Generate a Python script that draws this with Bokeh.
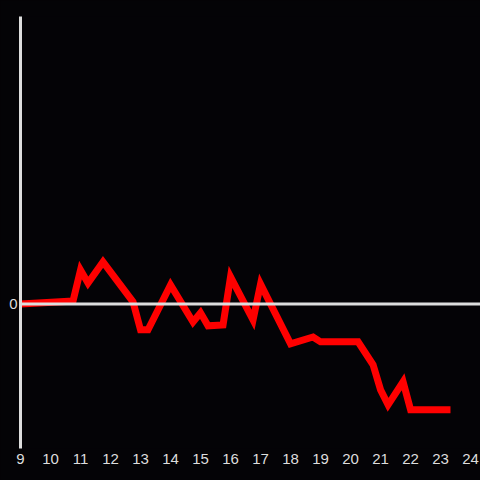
from bokeh.plotting import figure
from bokeh.models import FixedTicker, Span, Range1d
from bokeh.embed import file_html
from bokeh.resources import INLINE
from jinja2 import Template

hours = [9.0, 10.75, 11.0, 11.25, 11.75, 12.75, 13.0, 13.25, 14.0, 14.75, 15.0, 15.25,
         15.75, 16.0, 16.75, 17.0, 18.0, 18.75, 19.0, 20.25, 20.75, 21.0, 21.25, 21.75,
         22.0, 23.33]
values = [0.0, 0.1, 1.18, 0.73, 1.46, 0.07, -0.9, -0.9, 0.66, -0.63, -0.31, -0.76,
          -0.73, 0.94, -0.56, 0.69, -1.39, -1.15, -1.32, -1.32, -2.12, -2.99, -3.51, -2.71,
          -3.68, -3.68]
x_ticks = list(range(9, 25))
y_ticks = [0]

BG = "#040306"
AX = "#dddddd"

p = figure(width=480, height=480, output_backend="svg", toolbar_location=None,
           x_range=Range1d(9, 24.33), y_range=Range1d(-5.03, 10),
           background_fill_color=BG, border_fill_color=BG,
           min_border_left=20, min_border_top=16, min_border_bottom=32, min_border_right=0)
p.outline_line_color = None
p.xgrid.visible = False
p.ygrid.visible = False

p.xaxis.ticker = FixedTicker(ticks=x_ticks)
p.xaxis.axis_line_color = None
p.xaxis.major_tick_line_color = None
p.xaxis.minor_tick_line_color = None
p.xaxis.major_tick_out = 0
p.xaxis.major_label_standoff = 5
p.xaxis.major_label_text_color = AX
p.xaxis.major_label_text_font = "Liberation Sans"
p.xaxis.major_label_text_font_size = "15px"

p.yaxis.ticker = FixedTicker(ticks=y_ticks)
p.yaxis.axis_line_color = AX
p.yaxis.axis_line_width = 3
p.yaxis.major_tick_line_color = None
p.yaxis.minor_tick_line_color = None
p.yaxis.major_tick_out = 0
p.yaxis.major_label_standoff = 3
p.yaxis.major_label_text_color = AX
p.yaxis.major_label_text_font = "Liberation Sans"
p.yaxis.major_label_text_font_size = "15px"

p.add_layout(Span(location=0, dimension="width", line_color=AX, line_width=3))

p.line(hours, values, line_color="#ff0000", line_width=7, line_join="miter")

tmpl = Template("""{% extends base %}
{% block postamble %}<style>html, body { margin: 0; padding: 0; background: #040306; overflow: hidden; }</style>{% endblock %}
""")

open("out.html", "w").write(file_html(p, INLINE, template=tmpl))
